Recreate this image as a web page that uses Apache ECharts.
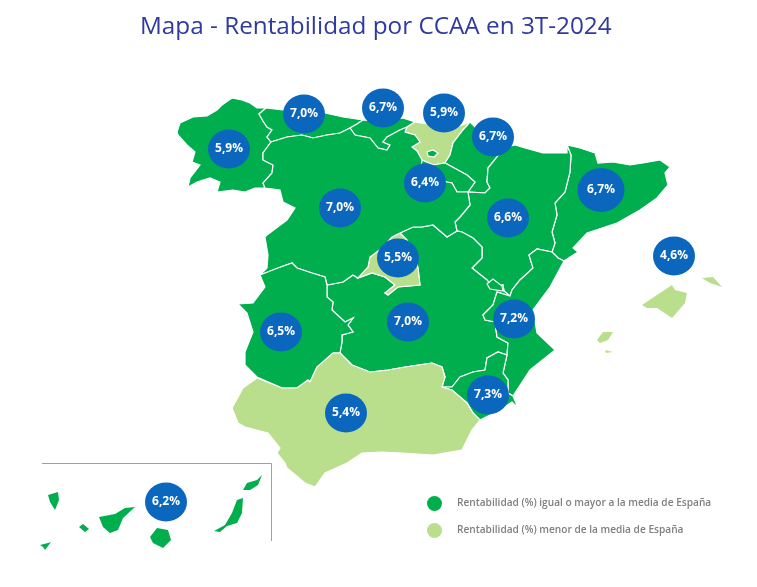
<!DOCTYPE html>
<html><head><meta charset="utf-8">
<style>html,body{margin:0;padding:0;background:#fff}#c{width:757px;height:587px}</style>
<script src="https://cdn.jsdelivr.net/npm/echarts@6/dist/echarts.min.js"></script>
</head><body><div id="c"></div>
<script>
// ---------- values ----------
const regionNames = ['Galicia','Asturias','Cantabria','País Vasco','Navarra','Cataluña','La Rioja','Castilla y León','Aragón','Madrid','Castilla-La Mancha','Extremadura','C. Valenciana','Murcia','Andalucía','Baleares','Canarias'];
const rentabilidad = [5.9,7.0,6.7,5.9,6.7,6.7,6.4,7.0,6.6,5.5,7.0,6.5,7.2,7.3,5.4,4.6,6.2];
const belowAverage = ['País Vasco','Madrid','Andalucía','Baleares'];
const islandRegions = ['Baleares','Canarias'];
const titleText = 'Mapa - Rentabilidad por CCAA en 3T-2024';
const legendAbove = 'Rentabilidad (%) igual o mayor a la media de España';
const legendBelow = 'Rentabilidad (%) menor de la media de España';

// ---------- map geometry (shared borders, traced outline) ----------
const GAL_AST=[[266,108],[259,114],[263,121],[267,127],[272,130],[267,137],[271,142]];
const GAL_CYL=[[271,142],[263,153],[263,160],[273,165],[272,173],[263,183],[265,188]];
const AST_CYL=[[271,142],[287,137],[302,135],[313,138],[327,135],[340,133],[350,128]];
const CAN_CYL=[[350,128],[355,135],[370,138],[378,148],[387,150],[390,145],[383,142],[387,137],[400,130],[407,127]];
const PV_CYL=[[407,127],[405,132],[415,135],[420,142],[412,147],[417,151],[422,160]];
const PV_RIO=[[422,160],[433,165],[445,163]];
const PV_NAV=[[445,163],[450,155],[453,143],[463,130],[470,122]];
const NAV_RIO=[[445,163],[467,175],[475,182],[468,192]];
const RIO_CYL=[[422,160],[420,172],[435,178],[447,182],[452,183],[457,192],[468,192]];
const NAV_ARA=[[503,148],[497,157],[488,168],[487,182],[490,188],[485,193],[468,192]];
const ARA_CYL=[[468,192],[470,205],[460,217],[455,222],[457,231]];
const ARA_CAT=[[567,145],[571,155],[570,172],[565,192],[555,203],[557,215],[552,232],[555,243],[552,252]];
const CAT_VAL=[[552,252],[558,258],[564,261]];
const ARA_VAL=[[552,252],[537,249],[529,255],[533,268],[520,280],[512,290],[510,296]];
const ARA_CLM=[[457,231],[462,232],[473,238],[482,247],[482,258],[472,268],[487,280],[492,287],[503,285],[504,291],[510,296]];
const CYL_CLM=[[457,231],[447,237],[433,225],[422,227],[413,227],[400,233]];
const MAD_CLM=[[400,233],[407,240],[415,255],[418,268],[420,285],[398,287],[388,295],[385,293],[395,285],[385,277],[372,273],[358,278]];
const MAD_CYL=[[358,278],[368,267],[370,257],[382,248],[392,237],[400,233]];
const CYL_EXT=[[358,278],[353,275],[343,282],[327,285],[325,277],[312,273],[297,268],[292,263],[278,268],[260,275]];
const EXT_CLM=[[327,285],[327,297],[333,302],[332,310],[345,322],[353,318],[348,325],[353,332],[342,335],[342,342],[340,353]];
const AND_EXT=[[340,353],[333,353],[317,367],[310,382],[308,380],[297,388],[282,388],[257,377]];
const AND_CLM=[[340,353],[352,365],[370,372],[388,370],[405,367],[432,363],[442,367],[445,377],[442,387]];
const AND_MUR=[[442,387],[452,390],[467,403],[473,413],[480,420]];
const CLM_VAL=[[510,296],[497,292],[493,305],[483,315],[485,320],[495,322],[497,337],[508,343],[507,355]];
const CLM_MUR=[[507,355],[498,352],[487,358],[485,370],[473,372],[460,377],[452,387],[442,387]];
const MUR_VAL=[[507,355],[503,373],[508,380],[508,393],[513,396]];
const rev=a=>a.slice().reverse();

const geometry = {
 'Galicia':{cp:[229,149],rings:[[...GAL_AST,...GAL_CYL,[255,188],[245,192],[233,190],[217,192],[220,182],[210,178],[197,182],[188,187],[190,178],[200,165],[192,162],[195,152],[187,145],[178,135],[177,132],[180,123],[193,117],[207,116],[217,110],[222,105],[232,98],[242,100],[250,103],[257,108]]]},
 'Asturias':{cp:[304,114],rings:[[...GAL_AST,...AST_CYL,[357,124],[363,120],[343,117],[325,113],[300,110],[283,110]]]},
 'Cantabria':{cp:[383,108],rings:[[...CAN_CYL,[415,122],[403,118],[383,122],[363,120],[357,124]]]},
 'País Vasco':{cp:[444,113],rings:[[...PV_CYL,...PV_RIO,...PV_NAV,[457,127],[433,125],[415,122]]]},
 'Navarra':{cp:[493,137],rings:[[...rev(PV_NAV),...NAV_RIO,...rev(NAV_ARA),[490,135],[478,130]]]},
 'Cataluña':{cp:[601,190],size:[47,44],rings:[[...ARA_CAT,...CAT_VAL,[570,257],[578,252],[573,248],[587,233],[617,223],[640,210],[657,198],[668,185],[665,173],[670,167],[660,160],[643,163],[630,165],[613,162],[598,163],[595,153],[580,148]]]},
 'La Rioja':{cp:[425,183],rings:[[...PV_RIO,...NAV_RIO,...rev(RIO_CYL)]]},
 'Aragón':{cp:[508,218],rings:[[...NAV_ARA,...ARA_CYL,...ARA_CLM,...rev(ARA_VAL),...rev(ARA_CAT),[567,153],[543,153],[525,148],[515,145]]]},
 'Castilla-La Mancha':{cp:[408,322],rings:[[...CYL_CLM,...MAD_CLM,[353,275],[343,282],...EXT_CLM,...AND_CLM,...rev(CLM_MUR),...rev(CLM_VAL),...rev(ARA_CLM)]]},
 'Madrid':{cp:[398,258],rings:[[...MAD_CLM,...MAD_CYL]]},
 'Castilla y León':{cp:[340,208],rings:[[...rev(GAL_CYL),...AST_CYL,...CAN_CYL,...PV_CYL,...RIO_CYL,...ARA_CYL,...CYL_CLM,...rev(MAD_CYL),...CYL_EXT,[267,268],[268,255],[265,237],[267,235],[287,220],[295,208],[283,202],[280,190]],[[427,152],[433,150],[438,153],[434,157],[428,156]]]},
 'Extremadura':{cp:[281,332],rings:[[[260,275],[278,268],[292,263],[297,268],[312,273],[325,277],...EXT_CLM,...AND_EXT,[245,365],[245,352],[253,332],[247,313],[238,304],[253,303],[265,287]]]},
 'C. Valenciana':{cp:[514,319],rings:[[...rev(CAT_VAL),...ARA_VAL,...CLM_VAL,...MUR_VAL,[530,370],[555,350],[537,333],[533,310],[550,287]],[[487,284],[493,279],[502,286],[503,291],[490,289]]]},
 'Murcia':{cp:[488,395],rings:[[...CLM_MUR,...AND_MUR,[500,410],[512,402],[518,408],...rev(MUR_VAL)]]},
 'Andalucía':{cp:[346,413],rings:[[...AND_CLM,...AND_MUR,[472,430],[462,450],[433,455],[402,453],[382,452],[362,453],[347,463],[325,473],[315,487],[305,483],[287,468],[285,463],[277,453],[280,448],[268,433],[245,427],[238,423],[232,408],[243,388],[257,378],[282,388],[297,388],[308,380],[310,382],[317,367],[333,353]]]},
 'Baleares':{cp:[674,256],rings:[[[642,305],[657,295],[672,285],[675,290],[687,293],[685,303],[672,318],[657,308],[647,308]],[[702,278],[713,277],[722,287],[710,283]],[[597,340],[603,332],[613,332],[608,340],[600,343]],[[605,350],[613,352],[606,353]]]},
 'Canarias':{cp:[166,502],rings:[[[48,495],[58,492],[59,500],[55,510],[50,502]],[[79,527],[83,524],[89,529],[85,532]],[[99,517],[115,514],[125,508],[135,507],[123,518],[118,530],[110,533],[103,527]],[[150,537],[157,528],[168,530],[171,540],[163,548],[153,543]],[[40,545],[48,543],[51,542],[45,550],[43,547]],[[214,531],[225,525],[232,513],[237,500],[243,498],[242,513],[237,523],[227,526],[220,532]],[[243,490],[247,483],[257,480],[262,475],[258,485],[250,490]]]}
};
const flip=p=>[p[0],-p[1]];
const close=r=>{const q=r.map(flip);q.push(q[0]);return q;};
const spainGeo={type:'FeatureCollection',features:Object.keys(geometry).map(n=>({type:'Feature',properties:{name:n,cp:flip(geometry[n].cp)},geometry:{type:'MultiPolygon',coordinates:geometry[n].rings.map(r=>[close(r)])}}))};
echarts.registerMap('spain',spainGeo);

const view={aspectScale:1,left:0,top:0,width:757,height:587,boundingCoords:[[0,0],[757,-587]],roam:false,silent:true};
const GREEN='#00AE4D',LIGHT='#B9DF8D',BLUE='#0B66BD';
const colorOf=n=>belowAverage.includes(n)?LIGHT:GREEN;
const bubbles=f=>regionNames.filter(f).map(n=>({name:n,value:[...flip(geometry[n].cp),rentabilidad[regionNames.indexOf(n)]],symbolSize:geometry[n].size||[42,39]}));
const bubbleSeries=(name,f)=>({type:'scatter',name,coordinateSystem:'geo',geoIndex:0,z:5,silent:true,symbol:'circle',
  itemStyle:{color:BLUE,opacity:1},data:bubbles(f),
  label:{show:true,position:'inside',color:'#fff',fontFamily:'"Open Sans"',fontWeight:'bold',fontSize:12,
    formatter:p=>p.value[2].toFixed(1).replace('.',',')+'%'}});

const chart=echarts.init(document.getElementById('c'),null,{renderer:'canvas'});
chart.setOption({
 animation:false,backgroundColor:'#fff',
 title:{text:titleText,left:135,top:10,textStyle:{color:'#2F3A9F',fontFamily:'"Open Sans"',fontWeight:'normal',fontSize:24.3}},
 legend:{orient:'vertical',left:422,top:491,itemGap:12,itemWidth:15,itemHeight:15,icon:'circle',selectedMode:false,
  textStyle:{color:'#7F7F7F',fontFamily:'"Open Sans"',fontWeight:600,fontSize:10.15,padding:[0,0,0,10]},
  data:[{name:legendAbove,itemStyle:{color:GREEN}},{name:legendBelow,itemStyle:{color:LIGHT}}]},
 geo:{map:'spain',...view,z:1,itemStyle:{areaColor:'transparent',borderColor:'transparent',borderWidth:0},emphasis:{disabled:true}},
 graphic:[{type:'polyline',z:3,silent:true,shape:{points:[[42,463.5],[271.5,463.5],[271.5,541]]},style:{stroke:'#A0A0A0',lineWidth:1,fill:null}}],
 series:[
  {type:'map',map:'spain',name:'Rentabilidad',...view,z:2,label:{show:false},emphasis:{disabled:true},
   itemStyle:{borderColor:'#fff',borderWidth:1.2},
   data:regionNames.map((n,i)=>({name:n,value:rentabilidad[i],itemStyle:{areaColor:colorOf(n),borderWidth:islandRegions.includes(n)?0:1.2}}))},
  bubbleSeries(legendAbove,n=>!belowAverage.includes(n)),
  bubbleSeries(legendBelow,n=>belowAverage.includes(n))
 ]
});
</script></body></html>
